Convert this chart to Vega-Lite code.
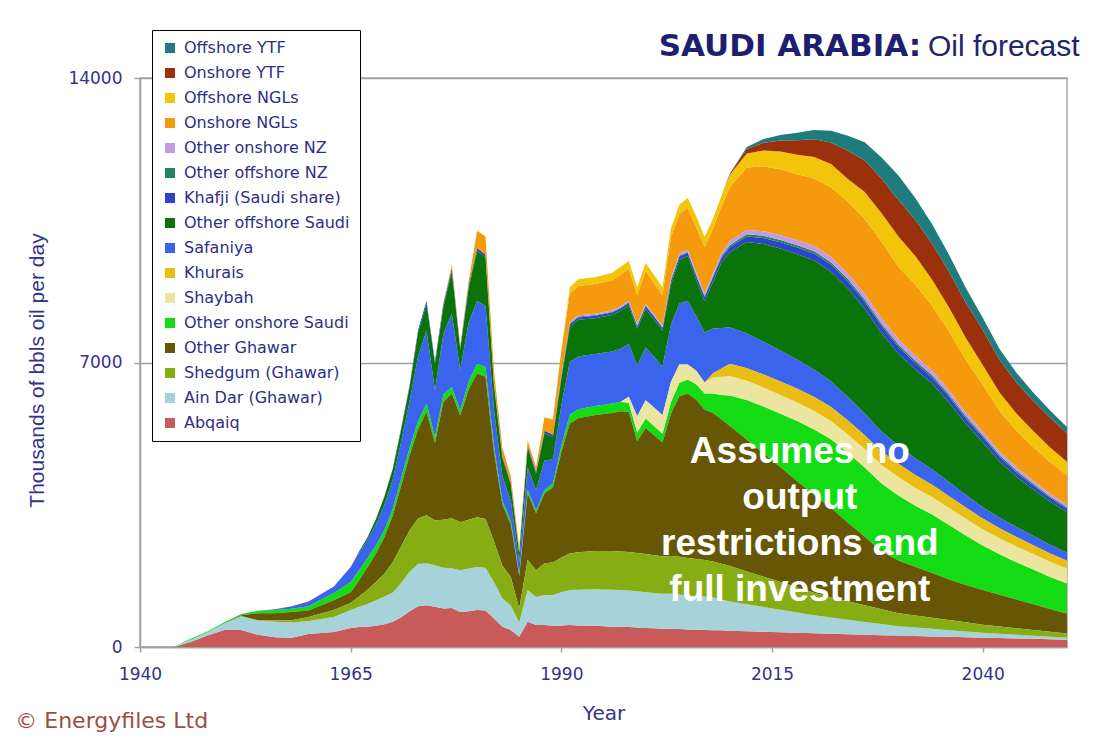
{
"$schema": "https://vega.github.io/schema/vega-lite/v6.json",
"width": 927, "height": 569,
"autosize": {"type": "none"},
"padding": {"left": 140, "top": 78, "right": 27, "bottom": 95},
"background": "white",
"config": {"view": {"stroke": "#a8a8a8", "strokeWidth": 1.5}, "font": "Liberation Sans"},
"data": {"values": [
{"year":1944,"field":"Abqaiq","kbd":0},{"year":1944,"field":"Ain Dar (Ghawar)","kbd":0},
{"year":1946,"field":"Abqaiq","kbd":120},{"year":1946,"field":"Ain Dar (Ghawar)","kbd":60},{"year":1946,"field":"Other onshore Saudi","kbd":20},
{"year":1948,"field":"Abqaiq","kbd":280},{"year":1948,"field":"Ain Dar (Ghawar)","kbd":80},{"year":1948,"field":"Other onshore Saudi","kbd":20},
{"year":1950,"field":"Abqaiq","kbd":420},{"year":1950,"field":"Ain Dar (Ghawar)","kbd":160},{"year":1950,"field":"Other onshore Saudi","kbd":30},
{"year":1952,"field":"Abqaiq","kbd":420},{"year":1952,"field":"Ain Dar (Ghawar)","kbd":340},{"year":1952,"field":"Other Ghawar","kbd":20},{"year":1952,"field":"Other onshore Saudi","kbd":30},
{"year":1954,"field":"Abqaiq","kbd":300},{"year":1954,"field":"Ain Dar (Ghawar)","kbd":360},{"year":1954,"field":"Other Ghawar","kbd":170},{"year":1954,"field":"Other onshore Saudi","kbd":60},
{"year":1956,"field":"Abqaiq","kbd":240},{"year":1956,"field":"Ain Dar (Ghawar)","kbd":380},{"year":1956,"field":"Shedgum (Ghawar)","kbd":30},{"year":1956,"field":"Other Ghawar","kbd":180},{"year":1956,"field":"Other onshore Saudi","kbd":80},{"year":1956,"field":"Safaniya","kbd":20},
{"year":1958,"field":"Abqaiq","kbd":230},{"year":1958,"field":"Ain Dar (Ghawar)","kbd":370},{"year":1958,"field":"Shedgum (Ghawar)","kbd":60},{"year":1958,"field":"Other Ghawar","kbd":200},{"year":1958,"field":"Other onshore Saudi","kbd":80},{"year":1958,"field":"Safaniya","kbd":60},
{"year":1960,"field":"Abqaiq","kbd":320},{"year":1960,"field":"Ain Dar (Ghawar)","kbd":320},{"year":1960,"field":"Shedgum (Ghawar)","kbd":100},{"year":1960,"field":"Other Ghawar","kbd":160},{"year":1960,"field":"Other onshore Saudi","kbd":100},{"year":1960,"field":"Safaniya","kbd":120},
{"year":1963,"field":"Abqaiq","kbd":370},{"year":1963,"field":"Ain Dar (Ghawar)","kbd":370},{"year":1963,"field":"Shedgum (Ghawar)","kbd":170},{"year":1963,"field":"Other Ghawar","kbd":240},{"year":1963,"field":"Other onshore Saudi","kbd":180},{"year":1963,"field":"Safaniya","kbd":160},
{"year":1965,"field":"Abqaiq","kbd":470},{"year":1965,"field":"Ain Dar (Ghawar)","kbd":440},{"year":1965,"field":"Shedgum (Ghawar)","kbd":170},{"year":1965,"field":"Other Ghawar","kbd":270},{"year":1965,"field":"Other onshore Saudi","kbd":250},{"year":1965,"field":"Safaniya","kbd":370},
{"year":1966,"field":"Abqaiq","kbd":490},{"year":1966,"field":"Ain Dar (Ghawar)","kbd":500},{"year":1966,"field":"Shedgum (Ghawar)","kbd":250},{"year":1966,"field":"Other Ghawar","kbd":400},{"year":1966,"field":"Other onshore Saudi","kbd":250},{"year":1966,"field":"Safaniya","kbd":420},{"year":1966,"field":"Other offshore Saudi","kbd":40},
{"year":1967,"field":"Abqaiq","kbd":500},{"year":1967,"field":"Ain Dar (Ghawar)","kbd":560},{"year":1967,"field":"Shedgum (Ghawar)","kbd":350},{"year":1967,"field":"Other Ghawar","kbd":550},{"year":1967,"field":"Other onshore Saudi","kbd":230},{"year":1967,"field":"Safaniya","kbd":450},{"year":1967,"field":"Other offshore Saudi","kbd":60},
{"year":1968,"field":"Abqaiq","kbd":520},{"year":1968,"field":"Ain Dar (Ghawar)","kbd":630},{"year":1968,"field":"Shedgum (Ghawar)","kbd":450},{"year":1968,"field":"Other Ghawar","kbd":700},{"year":1968,"field":"Other onshore Saudi","kbd":200},{"year":1968,"field":"Safaniya","kbd":520},{"year":1968,"field":"Other offshore Saudi","kbd":130},
{"year":1969,"field":"Abqaiq","kbd":560},{"year":1969,"field":"Ain Dar (Ghawar)","kbd":680},{"year":1969,"field":"Shedgum (Ghawar)","kbd":560},{"year":1969,"field":"Other Ghawar","kbd":900},{"year":1969,"field":"Other onshore Saudi","kbd":180},{"year":1969,"field":"Safaniya","kbd":620},{"year":1969,"field":"Other offshore Saudi","kbd":200},
{"year":1970,"field":"Abqaiq","kbd":620},{"year":1970,"field":"Ain Dar (Ghawar)","kbd":720},{"year":1970,"field":"Shedgum (Ghawar)","kbd":750},{"year":1970,"field":"Other Ghawar","kbd":1150},{"year":1970,"field":"Other onshore Saudi","kbd":170},{"year":1970,"field":"Safaniya","kbd":720},{"year":1970,"field":"Other offshore Saudi","kbd":250},{"year":1970,"field":"Khafji (Saudi share)","kbd":20},
{"year":1971,"field":"Abqaiq","kbd":730},{"year":1971,"field":"Ain Dar (Ghawar)","kbd":850},{"year":1971,"field":"Shedgum (Ghawar)","kbd":900},{"year":1971,"field":"Other Ghawar","kbd":1500},{"year":1971,"field":"Other onshore Saudi","kbd":180},{"year":1971,"field":"Safaniya","kbd":900},{"year":1971,"field":"Other offshore Saudi","kbd":300},{"year":1971,"field":"Khafji (Saudi share)","kbd":40},
{"year":1972,"field":"Abqaiq","kbd":880},{"year":1972,"field":"Ain Dar (Ghawar)","kbd":970},{"year":1972,"field":"Shedgum (Ghawar)","kbd":1020},{"year":1972,"field":"Other Ghawar","kbd":1850},{"year":1972,"field":"Other onshore Saudi","kbd":190},{"year":1972,"field":"Safaniya","kbd":1150},{"year":1972,"field":"Other offshore Saudi","kbd":350},{"year":1972,"field":"Khafji (Saudi share)","kbd":40},
{"year":1973,"field":"Abqaiq","kbd":1000},{"year":1973,"field":"Ain Dar (Ghawar)","kbd":1040},{"year":1973,"field":"Shedgum (Ghawar)","kbd":1120},{"year":1973,"field":"Other Ghawar","kbd":2200},{"year":1973,"field":"Other onshore Saudi","kbd":200},{"year":1973,"field":"Safaniya","kbd":1600},{"year":1973,"field":"Other offshore Saudi","kbd":580},{"year":1973,"field":"Khafji (Saudi share)","kbd":60},
{"year":1974,"field":"Abqaiq","kbd":1030},{"year":1974,"field":"Ain Dar (Ghawar)","kbd":1030},{"year":1974,"field":"Shedgum (Ghawar)","kbd":1180},{"year":1974,"field":"Other Ghawar","kbd":2550},{"year":1974,"field":"Other onshore Saudi","kbd":200},{"year":1974,"field":"Safaniya","kbd":1800},{"year":1974,"field":"Other offshore Saudi","kbd":660},{"year":1974,"field":"Khafji (Saudi share)","kbd":70},
{"year":1975,"field":"Abqaiq","kbd":990},{"year":1975,"field":"Ain Dar (Ghawar)","kbd":1020},{"year":1975,"field":"Shedgum (Ghawar)","kbd":1110},{"year":1975,"field":"Other Ghawar","kbd":1900},{"year":1975,"field":"Other onshore Saudi","kbd":150},{"year":1975,"field":"Safaniya","kbd":1150},{"year":1975,"field":"Other offshore Saudi","kbd":650},{"year":1975,"field":"Khafji (Saudi share)","kbd":60},
{"year":1976,"field":"Abqaiq","kbd":950},{"year":1976,"field":"Ain Dar (Ghawar)","kbd":1000},{"year":1976,"field":"Shedgum (Ghawar)","kbd":1180},{"year":1976,"field":"Other Ghawar","kbd":2900},{"year":1976,"field":"Other onshore Saudi","kbd":180},{"year":1976,"field":"Safaniya","kbd":1500},{"year":1976,"field":"Other offshore Saudi","kbd":650},{"year":1976,"field":"Khafji (Saudi share)","kbd":80},{"year":1976,"field":"Onshore NGLs","kbd":30},
{"year":1977,"field":"Abqaiq","kbd":960},{"year":1977,"field":"Ain Dar (Ghawar)","kbd":980},{"year":1977,"field":"Shedgum (Ghawar)","kbd":1230},{"year":1977,"field":"Other Ghawar","kbd":3070},{"year":1977,"field":"Other onshore Saudi","kbd":160},{"year":1977,"field":"Safaniya","kbd":1800},{"year":1977,"field":"Other offshore Saudi","kbd":1050},{"year":1977,"field":"Khafji (Saudi share)","kbd":70},{"year":1977,"field":"Onshore NGLs","kbd":80},
{"year":1978,"field":"Abqaiq","kbd":860},{"year":1978,"field":"Ain Dar (Ghawar)","kbd":1030},{"year":1978,"field":"Shedgum (Ghawar)","kbd":1180},{"year":1978,"field":"Other Ghawar","kbd":2630},{"year":1978,"field":"Other onshore Saudi","kbd":120},{"year":1978,"field":"Safaniya","kbd":1000},{"year":1978,"field":"Other offshore Saudi","kbd":500},{"year":1978,"field":"Khafji (Saudi share)","kbd":50},{"year":1978,"field":"Onshore NGLs","kbd":50},
{"year":1979,"field":"Abqaiq","kbd":880},{"year":1979,"field":"Ain Dar (Ghawar)","kbd":1050},{"year":1979,"field":"Shedgum (Ghawar)","kbd":1200},{"year":1979,"field":"Other Ghawar","kbd":3200},{"year":1979,"field":"Other onshore Saudi","kbd":200},{"year":1979,"field":"Safaniya","kbd":1450},{"year":1979,"field":"Other offshore Saudi","kbd":850},{"year":1979,"field":"Khafji (Saudi share)","kbd":70},{"year":1979,"field":"Onshore NGLs","kbd":100},
{"year":1980,"field":"Abqaiq","kbd":910},{"year":1980,"field":"Ain Dar (Ghawar)","kbd":1060},{"year":1980,"field":"Shedgum (Ghawar)","kbd":1220},{"year":1980,"field":"Other Ghawar","kbd":3540},{"year":1980,"field":"Other onshore Saudi","kbd":240},{"year":1980,"field":"Safaniya","kbd":1550},{"year":1980,"field":"Other offshore Saudi","kbd":1230},{"year":1980,"field":"Khafji (Saudi share)","kbd":70},{"year":1980,"field":"Onshore NGLs","kbd":420},
{"year":1981,"field":"Abqaiq","kbd":900},{"year":1981,"field":"Ain Dar (Ghawar)","kbd":1050},{"year":1981,"field":"Shedgum (Ghawar)","kbd":1200},{"year":1981,"field":"Other Ghawar","kbd":3500},{"year":1981,"field":"Other onshore Saudi","kbd":240},{"year":1981,"field":"Safaniya","kbd":1500},{"year":1981,"field":"Other offshore Saudi","kbd":1200},{"year":1981,"field":"Khafji (Saudi share)","kbd":70},{"year":1981,"field":"Onshore NGLs","kbd":440},
{"year":1982,"field":"Abqaiq","kbd":700},{"year":1982,"field":"Ain Dar (Ghawar)","kbd":900},{"year":1982,"field":"Shedgum (Ghawar)","kbd":1000},{"year":1982,"field":"Other Ghawar","kbd":2200},{"year":1982,"field":"Other onshore Saudi","kbd":150},{"year":1982,"field":"Safaniya","kbd":900},{"year":1982,"field":"Other offshore Saudi","kbd":600},{"year":1982,"field":"Khafji (Saudi share)","kbd":50},{"year":1982,"field":"Onshore NGLs","kbd":300},
{"year":1983,"field":"Abqaiq","kbd":500},{"year":1983,"field":"Ain Dar (Ghawar)","kbd":700},{"year":1983,"field":"Shedgum (Ghawar)","kbd":800},{"year":1983,"field":"Other Ghawar","kbd":1500},{"year":1983,"field":"Other onshore Saudi","kbd":100},{"year":1983,"field":"Safaniya","kbd":600},{"year":1983,"field":"Other offshore Saudi","kbd":450},{"year":1983,"field":"Khafji (Saudi share)","kbd":50},{"year":1983,"field":"Onshore NGLs","kbd":200},
{"year":1984,"field":"Abqaiq","kbd":420},{"year":1984,"field":"Ain Dar (Ghawar)","kbd":600},{"year":1984,"field":"Shedgum (Ghawar)","kbd":700},{"year":1984,"field":"Other Ghawar","kbd":1300},{"year":1984,"field":"Other onshore Saudi","kbd":80},{"year":1984,"field":"Safaniya","kbd":500},{"year":1984,"field":"Other offshore Saudi","kbd":400},{"year":1984,"field":"Khafji (Saudi share)","kbd":40},{"year":1984,"field":"Onshore NGLs","kbd":160},
{"year":1985,"field":"Abqaiq","kbd":250},{"year":1985,"field":"Ain Dar (Ghawar)","kbd":350},{"year":1985,"field":"Shedgum (Ghawar)","kbd":350},{"year":1985,"field":"Other Ghawar","kbd":800},{"year":1985,"field":"Other onshore Saudi","kbd":50},{"year":1985,"field":"Safaniya","kbd":300},{"year":1985,"field":"Other offshore Saudi","kbd":200},{"year":1985,"field":"Khafji (Saudi share)","kbd":30},{"year":1985,"field":"Onshore NGLs","kbd":120},
{"year":1986,"field":"Abqaiq","kbd":620},{"year":1986,"field":"Ain Dar (Ghawar)","kbd":780},{"year":1986,"field":"Shedgum (Ghawar)","kbd":740},{"year":1986,"field":"Other Ghawar","kbd":1640},{"year":1986,"field":"Other onshore Saudi","kbd":80},{"year":1986,"field":"Safaniya","kbd":560},{"year":1986,"field":"Other offshore Saudi","kbd":490},{"year":1986,"field":"Khafji (Saudi share)","kbd":50},{"year":1986,"field":"Onshore NGLs","kbd":120},
{"year":1987,"field":"Abqaiq","kbd":540},{"year":1987,"field":"Ain Dar (Ghawar)","kbd":690},{"year":1987,"field":"Shedgum (Ghawar)","kbd":660},{"year":1987,"field":"Other Ghawar","kbd":1400},{"year":1987,"field":"Other onshore Saudi","kbd":70},{"year":1987,"field":"Safaniya","kbd":500},{"year":1987,"field":"Other offshore Saudi","kbd":410},{"year":1987,"field":"Khafji (Saudi share)","kbd":50},{"year":1987,"field":"Onshore NGLs","kbd":100},
{"year":1988,"field":"Abqaiq","kbd":540},{"year":1988,"field":"Ain Dar (Ghawar)","kbd":740},{"year":1988,"field":"Shedgum (Ghawar)","kbd":780},{"year":1988,"field":"Other Ghawar","kbd":1720},{"year":1988,"field":"Other onshore Saudi","kbd":80},{"year":1988,"field":"Safaniya","kbd":730},{"year":1988,"field":"Other offshore Saudi","kbd":670},{"year":1988,"field":"Khafji (Saudi share)","kbd":60},{"year":1988,"field":"Onshore NGLs","kbd":330},
{"year":1989,"field":"Abqaiq","kbd":520},{"year":1989,"field":"Ain Dar (Ghawar)","kbd":760},{"year":1989,"field":"Shedgum (Ghawar)","kbd":800},{"year":1989,"field":"Other Ghawar","kbd":1850},{"year":1989,"field":"Other onshore Saudi","kbd":90},{"year":1989,"field":"Safaniya","kbd":600},{"year":1989,"field":"Other offshore Saudi","kbd":550},{"year":1989,"field":"Khafji (Saudi share)","kbd":60},{"year":1989,"field":"Onshore NGLs","kbd":370},
{"year":1990,"field":"Abqaiq","kbd":530},{"year":1990,"field":"Ain Dar (Ghawar)","kbd":820},{"year":1990,"field":"Shedgum (Ghawar)","kbd":850},{"year":1990,"field":"Other Ghawar","kbd":2600},{"year":1990,"field":"Other onshore Saudi","kbd":150},{"year":1990,"field":"Safaniya","kbd":1000},{"year":1990,"field":"Other offshore Saudi","kbd":650},{"year":1990,"field":"Khafji (Saudi share)","kbd":60},{"year":1990,"field":"Other offshore NZ","kbd":20},{"year":1990,"field":"Other onshore NZ","kbd":20},{"year":1990,"field":"Onshore NGLs","kbd":600},
{"year":1991,"field":"Abqaiq","kbd":540},{"year":1991,"field":"Ain Dar (Ghawar)","kbd":860},{"year":1991,"field":"Shedgum (Ghawar)","kbd":900},{"year":1991,"field":"Other Ghawar","kbd":3200},{"year":1991,"field":"Other onshore Saudi","kbd":220},{"year":1991,"field":"Safaniya","kbd":1300},{"year":1991,"field":"Other offshore Saudi","kbd":860},{"year":1991,"field":"Khafji (Saudi share)","kbd":60},{"year":1991,"field":"Other offshore NZ","kbd":20},{"year":1991,"field":"Other onshore NZ","kbd":30},{"year":1991,"field":"Onshore NGLs","kbd":700},{"year":1991,"field":"Offshore NGLs","kbd":160},
{"year":1992,"field":"Abqaiq","kbd":530},{"year":1992,"field":"Ain Dar (Ghawar)","kbd":880},{"year":1992,"field":"Shedgum (Ghawar)","kbd":920},{"year":1992,"field":"Other Ghawar","kbd":3300},{"year":1992,"field":"Other onshore Saudi","kbd":220},{"year":1992,"field":"Safaniya","kbd":1300},{"year":1992,"field":"Other offshore Saudi","kbd":900},{"year":1992,"field":"Khafji (Saudi share)","kbd":60},{"year":1992,"field":"Other offshore NZ","kbd":20},{"year":1992,"field":"Other onshore NZ","kbd":30},{"year":1992,"field":"Onshore NGLs","kbd":720},{"year":1992,"field":"Offshore NGLs","kbd":170},
{"year":1994,"field":"Abqaiq","kbd":520},{"year":1994,"field":"Ain Dar (Ghawar)","kbd":900},{"year":1994,"field":"Shedgum (Ghawar)","kbd":940},{"year":1994,"field":"Other Ghawar","kbd":3350},{"year":1994,"field":"Other onshore Saudi","kbd":220},{"year":1994,"field":"Safaniya","kbd":1280},{"year":1994,"field":"Other offshore Saudi","kbd":880},{"year":1994,"field":"Khafji (Saudi share)","kbd":60},{"year":1994,"field":"Other offshore NZ","kbd":20},{"year":1994,"field":"Other onshore NZ","kbd":30},{"year":1994,"field":"Onshore NGLs","kbd":730},{"year":1994,"field":"Offshore NGLs","kbd":170},
{"year":1996,"field":"Abqaiq","kbd":500},{"year":1996,"field":"Ain Dar (Ghawar)","kbd":910},{"year":1996,"field":"Shedgum (Ghawar)","kbd":950},{"year":1996,"field":"Other Ghawar","kbd":3400},{"year":1996,"field":"Other onshore Saudi","kbd":230},{"year":1996,"field":"Safaniya","kbd":1280},{"year":1996,"field":"Other offshore Saudi","kbd":900},{"year":1996,"field":"Khafji (Saudi share)","kbd":60},{"year":1996,"field":"Other offshore NZ","kbd":20},{"year":1996,"field":"Other onshore NZ","kbd":30},{"year":1996,"field":"Onshore NGLs","kbd":740},{"year":1996,"field":"Offshore NGLs","kbd":180},
{"year":1997,"field":"Abqaiq","kbd":500},{"year":1997,"field":"Ain Dar (Ghawar)","kbd":900},{"year":1997,"field":"Shedgum (Ghawar)","kbd":950},{"year":1997,"field":"Other Ghawar","kbd":3450},{"year":1997,"field":"Other onshore Saudi","kbd":230},{"year":1997,"field":"Safaniya","kbd":1300},{"year":1997,"field":"Other offshore Saudi","kbd":940},{"year":1997,"field":"Khafji (Saudi share)","kbd":60},{"year":1997,"field":"Other offshore NZ","kbd":20},{"year":1997,"field":"Other onshore NZ","kbd":30},{"year":1997,"field":"Onshore NGLs","kbd":780},{"year":1997,"field":"Offshore NGLs","kbd":190},
{"year":1998,"field":"Abqaiq","kbd":490},{"year":1998,"field":"Ain Dar (Ghawar)","kbd":900},{"year":1998,"field":"Shedgum (Ghawar)","kbd":950},{"year":1998,"field":"Other Ghawar","kbd":3450},{"year":1998,"field":"Other onshore Saudi","kbd":220},{"year":1998,"field":"Shaybah","kbd":150},{"year":1998,"field":"Safaniya","kbd":1300},{"year":1998,"field":"Other offshore Saudi","kbd":950},{"year":1998,"field":"Khafji (Saudi share)","kbd":60},{"year":1998,"field":"Other offshore NZ","kbd":20},{"year":1998,"field":"Other onshore NZ","kbd":30},{"year":1998,"field":"Onshore NGLs","kbd":780},{"year":1998,"field":"Offshore NGLs","kbd":200},
{"year":1999,"field":"Abqaiq","kbd":480},{"year":1999,"field":"Ain Dar (Ghawar)","kbd":890},{"year":1999,"field":"Shedgum (Ghawar)","kbd":940},{"year":1999,"field":"Other Ghawar","kbd":2750},{"year":1999,"field":"Other onshore Saudi","kbd":220},{"year":1999,"field":"Shaybah","kbd":400},{"year":1999,"field":"Safaniya","kbd":1250},{"year":1999,"field":"Other offshore Saudi","kbd":900},{"year":1999,"field":"Khafji (Saudi share)","kbd":60},{"year":1999,"field":"Other offshore NZ","kbd":20},{"year":1999,"field":"Other onshore NZ","kbd":30},{"year":1999,"field":"Onshore NGLs","kbd":720},{"year":1999,"field":"Offshore NGLs","kbd":190},
{"year":2000,"field":"Abqaiq","kbd":470},{"year":2000,"field":"Ain Dar (Ghawar)","kbd":880},{"year":2000,"field":"Shedgum (Ghawar)","kbd":940},{"year":2000,"field":"Other Ghawar","kbd":3100},{"year":2000,"field":"Other onshore Saudi","kbd":230},{"year":2000,"field":"Shaybah","kbd":450},{"year":2000,"field":"Safaniya","kbd":1300},{"year":2000,"field":"Other offshore Saudi","kbd":950},{"year":2000,"field":"Khafji (Saudi share)","kbd":70},{"year":2000,"field":"Other offshore NZ","kbd":20},{"year":2000,"field":"Other onshore NZ","kbd":30},{"year":2000,"field":"Onshore NGLs","kbd":810},{"year":2000,"field":"Offshore NGLs","kbd":200},
{"year":2001,"field":"Abqaiq","kbd":460},{"year":2001,"field":"Ain Dar (Ghawar)","kbd":870},{"year":2001,"field":"Shedgum (Ghawar)","kbd":930},{"year":2001,"field":"Other Ghawar","kbd":2950},{"year":2001,"field":"Other onshore Saudi","kbd":230},{"year":2001,"field":"Shaybah","kbd":450},{"year":2001,"field":"Safaniya","kbd":1250},{"year":2001,"field":"Other offshore Saudi","kbd":920},{"year":2001,"field":"Khafji (Saudi share)","kbd":70},{"year":2001,"field":"Other offshore NZ","kbd":20},{"year":2001,"field":"Other onshore NZ","kbd":30},{"year":2001,"field":"Onshore NGLs","kbd":770},{"year":2001,"field":"Offshore NGLs","kbd":200},
{"year":2002,"field":"Abqaiq","kbd":450},{"year":2002,"field":"Ain Dar (Ghawar)","kbd":860},{"year":2002,"field":"Shedgum (Ghawar)","kbd":920},{"year":2002,"field":"Other Ghawar","kbd":2800},{"year":2002,"field":"Other onshore Saudi","kbd":220},{"year":2002,"field":"Shaybah","kbd":450},{"year":2002,"field":"Safaniya","kbd":1200},{"year":2002,"field":"Other offshore Saudi","kbd":880},{"year":2002,"field":"Khafji (Saudi share)","kbd":70},{"year":2002,"field":"Other offshore NZ","kbd":20},{"year":2002,"field":"Other onshore NZ","kbd":30},{"year":2002,"field":"Onshore NGLs","kbd":750},{"year":2002,"field":"Offshore NGLs","kbd":200},
{"year":2003,"field":"Abqaiq","kbd":450},{"year":2003,"field":"Ain Dar (Ghawar)","kbd":860},{"year":2003,"field":"Shedgum (Ghawar)","kbd":930},{"year":2003,"field":"Other Ghawar","kbd":3500},{"year":2003,"field":"Other onshore Saudi","kbd":280},{"year":2003,"field":"Shaybah","kbd":500},{"year":2003,"field":"Safaniya","kbd":1400},{"year":2003,"field":"Other offshore Saudi","kbd":1000},{"year":2003,"field":"Khafji (Saudi share)","kbd":80},{"year":2003,"field":"Other offshore NZ","kbd":30},{"year":2003,"field":"Other onshore NZ","kbd":50},{"year":2003,"field":"Onshore NGLs","kbd":1000},{"year":2003,"field":"Offshore NGLs","kbd":220},
{"year":2004,"field":"Abqaiq","kbd":440},{"year":2004,"field":"Ain Dar (Ghawar)","kbd":850},{"year":2004,"field":"Shedgum (Ghawar)","kbd":930},{"year":2004,"field":"Other Ghawar","kbd":3950},{"year":2004,"field":"Other onshore Saudi","kbd":330},{"year":2004,"field":"Shaybah","kbd":450},{"year":2004,"field":"Safaniya","kbd":1500},{"year":2004,"field":"Other offshore Saudi","kbd":1080},{"year":2004,"field":"Khafji (Saudi share)","kbd":80},{"year":2004,"field":"Other offshore NZ","kbd":20},{"year":2004,"field":"Other onshore NZ","kbd":50},{"year":2004,"field":"Onshore NGLs","kbd":970},{"year":2004,"field":"Offshore NGLs","kbd":230},
{"year":2005,"field":"Abqaiq","kbd":430},{"year":2005,"field":"Ain Dar (Ghawar)","kbd":840},{"year":2005,"field":"Shedgum (Ghawar)","kbd":920},{"year":2005,"field":"Other Ghawar","kbd":4050},{"year":2005,"field":"Other onshore Saudi","kbd":340},{"year":2005,"field":"Shaybah","kbd":370},{"year":2005,"field":"Safaniya","kbd":1570},{"year":2005,"field":"Other offshore Saudi","kbd":1100},{"year":2005,"field":"Khafji (Saudi share)","kbd":80},{"year":2005,"field":"Other offshore NZ","kbd":20},{"year":2005,"field":"Other onshore NZ","kbd":50},{"year":2005,"field":"Onshore NGLs","kbd":1030},{"year":2005,"field":"Offshore NGLs","kbd":250},
{"year":2006,"field":"Abqaiq","kbd":425},{"year":2006,"field":"Ain Dar (Ghawar)","kbd":830},{"year":2006,"field":"Shedgum (Ghawar)","kbd":910},{"year":2006,"field":"Other Ghawar","kbd":3920},{"year":2006,"field":"Other onshore Saudi","kbd":380},{"year":2006,"field":"Shaybah","kbd":330},{"year":2006,"field":"Safaniya","kbd":1350},{"year":2006,"field":"Other offshore Saudi","kbd":900},{"year":2006,"field":"Khafji (Saudi share)","kbd":90},{"year":2006,"field":"Other offshore NZ","kbd":30},{"year":2006,"field":"Other onshore NZ","kbd":55},{"year":2006,"field":"Onshore NGLs","kbd":1120},{"year":2006,"field":"Offshore NGLs","kbd":260},
{"year":2007,"field":"Abqaiq","kbd":420},{"year":2007,"field":"Ain Dar (Ghawar)","kbd":820},{"year":2007,"field":"Shedgum (Ghawar)","kbd":900},{"year":2007,"field":"Other Ghawar","kbd":3700},{"year":2007,"field":"Other onshore Saudi","kbd":400},{"year":2007,"field":"Shaybah","kbd":270},{"year":2007,"field":"Safaniya","kbd":1230},{"year":2007,"field":"Other offshore Saudi","kbd":770},{"year":2007,"field":"Khafji (Saudi share)","kbd":100},{"year":2007,"field":"Other offshore NZ","kbd":30},{"year":2007,"field":"Other onshore NZ","kbd":50},{"year":2007,"field":"Onshore NGLs","kbd":1150},{"year":2007,"field":"Offshore NGLs","kbd":250},
{"year":2008,"field":"Abqaiq","kbd":415},{"year":2008,"field":"Ain Dar (Ghawar)","kbd":800},{"year":2008,"field":"Shedgum (Ghawar)","kbd":890},{"year":2008,"field":"Other Ghawar","kbd":3650},{"year":2008,"field":"Other onshore Saudi","kbd":480},{"year":2008,"field":"Shaybah","kbd":400},{"year":2008,"field":"Khurais","kbd":100},{"year":2008,"field":"Safaniya","kbd":1100},{"year":2008,"field":"Other offshore Saudi","kbd":1150},{"year":2008,"field":"Khafji (Saudi share)","kbd":110},{"year":2008,"field":"Other offshore NZ","kbd":40},{"year":2008,"field":"Other onshore NZ","kbd":60},{"year":2008,"field":"Onshore NGLs","kbd":1100},{"year":2008,"field":"Offshore NGLs","kbd":250},
{"year":2009,"field":"Abqaiq","kbd":410},{"year":2009,"field":"Ain Dar (Ghawar)","kbd":760},{"year":2009,"field":"Shedgum (Ghawar)","kbd":880},{"year":2009,"field":"Other Ghawar","kbd":3550},{"year":2009,"field":"Other onshore Saudi","kbd":600},{"year":2009,"field":"Shaybah","kbd":450},{"year":2009,"field":"Khurais","kbd":200},{"year":2009,"field":"Safaniya","kbd":1000},{"year":2009,"field":"Other offshore Saudi","kbd":1610},{"year":2009,"field":"Khafji (Saudi share)","kbd":120},{"year":2009,"field":"Other offshore NZ","kbd":40},{"year":2009,"field":"Other onshore NZ","kbd":70},{"year":2009,"field":"Onshore NGLs","kbd":1150},{"year":2009,"field":"Offshore NGLs","kbd":260},
{"year":2010,"field":"Abqaiq","kbd":400},{"year":2010,"field":"Ain Dar (Ghawar)","kbd":720},{"year":2010,"field":"Shedgum (Ghawar)","kbd":870},{"year":2010,"field":"Other Ghawar","kbd":3450},{"year":2010,"field":"Other onshore Saudi","kbd":750},{"year":2010,"field":"Shaybah","kbd":480},{"year":2010,"field":"Khurais","kbd":300},{"year":2010,"field":"Safaniya","kbd":900},{"year":2010,"field":"Other offshore Saudi","kbd":1840},{"year":2010,"field":"Khafji (Saudi share)","kbd":130},{"year":2010,"field":"Other offshore NZ","kbd":50},{"year":2010,"field":"Other onshore NZ","kbd":100},{"year":2010,"field":"Onshore NGLs","kbd":1330},{"year":2010,"field":"Offshore NGLs","kbd":300},{"year":2010,"field":"Onshore YTF","kbd":30},
{"year":2012,"field":"Abqaiq","kbd":387},{"year":2012,"field":"Ain Dar (Ghawar)","kbd":665},{"year":2012,"field":"Shedgum (Ghawar)","kbd":806},{"year":2012,"field":"Other Ghawar","kbd":3240},{"year":2012,"field":"Other onshore Saudi","kbd":977},{"year":2012,"field":"Shaybah","kbd":475},{"year":2012,"field":"Khurais","kbd":310},{"year":2012,"field":"Safaniya","kbd":855},{"year":2012,"field":"Other offshore Saudi","kbd":2250},{"year":2012,"field":"Khafji (Saudi share)","kbd":138},{"year":2012,"field":"Other offshore NZ","kbd":52},{"year":2012,"field":"Other onshore NZ","kbd":105},{"year":2012,"field":"Onshore NGLs","kbd":1540},{"year":2012,"field":"Offshore NGLs","kbd":345},{"year":2012,"field":"Onshore YTF","kbd":110},{"year":2012,"field":"Offshore YTF","kbd":45},
{"year":2014,"field":"Abqaiq","kbd":375},{"year":2014,"field":"Ain Dar (Ghawar)","kbd":611},{"year":2014,"field":"Shedgum (Ghawar)","kbd":743},{"year":2014,"field":"Other Ghawar","kbd":3032},{"year":2014,"field":"Other onshore Saudi","kbd":1156},{"year":2014,"field":"Shaybah","kbd":469},{"year":2014,"field":"Khurais","kbd":318},{"year":2014,"field":"Safaniya","kbd":809},{"year":2014,"field":"Other offshore Saudi","kbd":2403},{"year":2014,"field":"Khafji (Saudi share)","kbd":147},{"year":2014,"field":"Other offshore NZ","kbd":54},{"year":2014,"field":"Other onshore NZ","kbd":111},{"year":2014,"field":"Onshore NGLs","kbd":1596},{"year":2014,"field":"Offshore NGLs","kbd":391},{"year":2014,"field":"Onshore YTF","kbd":194},{"year":2014,"field":"Offshore YTF","kbd":91},
{"year":2016,"field":"Abqaiq","kbd":362},{"year":2016,"field":"Ain Dar (Ghawar)","kbd":556},{"year":2016,"field":"Shedgum (Ghawar)","kbd":679},{"year":2016,"field":"Other Ghawar","kbd":2823},{"year":2016,"field":"Other onshore Saudi","kbd":1319},{"year":2016,"field":"Shaybah","kbd":464},{"year":2016,"field":"Khurais","kbd":327},{"year":2016,"field":"Safaniya","kbd":764},{"year":2016,"field":"Other offshore Saudi","kbd":2509},{"year":2016,"field":"Khafji (Saudi share)","kbd":154},{"year":2016,"field":"Other offshore NZ","kbd":55},{"year":2016,"field":"Other onshore NZ","kbd":116},{"year":2016,"field":"Onshore NGLs","kbd":1625},{"year":2016,"field":"Offshore NGLs","kbd":436},{"year":2016,"field":"Onshore YTF","kbd":275},{"year":2016,"field":"Offshore YTF","kbd":136},
{"year":2018,"field":"Abqaiq","kbd":349},{"year":2018,"field":"Ain Dar (Ghawar)","kbd":502},{"year":2018,"field":"Shedgum (Ghawar)","kbd":616},{"year":2018,"field":"Other Ghawar","kbd":2614},{"year":2018,"field":"Other onshore Saudi","kbd":1477},{"year":2018,"field":"Shaybah","kbd":458},{"year":2018,"field":"Khurais","kbd":336},{"year":2018,"field":"Safaniya","kbd":718},{"year":2018,"field":"Other offshore Saudi","kbd":2595},{"year":2018,"field":"Khafji (Saudi share)","kbd":162},{"year":2018,"field":"Other offshore NZ","kbd":57},{"year":2018,"field":"Other onshore NZ","kbd":122},{"year":2018,"field":"Onshore NGLs","kbd":1623},{"year":2018,"field":"Offshore NGLs","kbd":482},{"year":2018,"field":"Onshore YTF","kbd":357},{"year":2018,"field":"Offshore YTF","kbd":182},
{"year":2020,"field":"Abqaiq","kbd":336},{"year":2020,"field":"Ain Dar (Ghawar)","kbd":447},{"year":2020,"field":"Shedgum (Ghawar)","kbd":552},{"year":2020,"field":"Other Ghawar","kbd":2405},{"year":2020,"field":"Other onshore Saudi","kbd":1614},{"year":2020,"field":"Shaybah","kbd":453},{"year":2020,"field":"Khurais","kbd":345},{"year":2020,"field":"Safaniya","kbd":673},{"year":2020,"field":"Other offshore Saudi","kbd":2682},{"year":2020,"field":"Khafji (Saudi share)","kbd":171},{"year":2020,"field":"Other offshore NZ","kbd":59},{"year":2020,"field":"Other onshore NZ","kbd":127},{"year":2020,"field":"Onshore NGLs","kbd":1664},{"year":2020,"field":"Offshore NGLs","kbd":527},{"year":2020,"field":"Onshore YTF","kbd":439},{"year":2020,"field":"Offshore YTF","kbd":227},
{"year":2022,"field":"Abqaiq","kbd":324},{"year":2022,"field":"Ain Dar (Ghawar)","kbd":399},{"year":2022,"field":"Shedgum (Ghawar)","kbd":498},{"year":2022,"field":"Other Ghawar","kbd":2200},{"year":2022,"field":"Other onshore Saudi","kbd":1689},{"year":2022,"field":"Shaybah","kbd":450},{"year":2022,"field":"Khurais","kbd":348},{"year":2022,"field":"Safaniya","kbd":628},{"year":2022,"field":"Other offshore Saudi","kbd":2699},{"year":2022,"field":"Khafji (Saudi share)","kbd":174},{"year":2022,"field":"Other offshore NZ","kbd":60},{"year":2022,"field":"Other onshore NZ","kbd":130},{"year":2022,"field":"Onshore NGLs","kbd":1713},{"year":2022,"field":"Offshore NGLs","kbd":572},{"year":2022,"field":"Onshore YTF","kbd":527},{"year":2022,"field":"Offshore YTF","kbd":289},
{"year":2024,"field":"Abqaiq","kbd":313},{"year":2024,"field":"Ain Dar (Ghawar)","kbd":357},{"year":2024,"field":"Shedgum (Ghawar)","kbd":453},{"year":2024,"field":"Other Ghawar","kbd":1933},{"year":2024,"field":"Other onshore Saudi","kbd":1721},{"year":2024,"field":"Shaybah","kbd":450},{"year":2024,"field":"Khurais","kbd":343},{"year":2024,"field":"Safaniya","kbd":583},{"year":2024,"field":"Other offshore Saudi","kbd":2667},{"year":2024,"field":"Khafji (Saudi share)","kbd":173},{"year":2024,"field":"Other offshore NZ","kbd":60},{"year":2024,"field":"Other onshore NZ","kbd":130},{"year":2024,"field":"Onshore NGLs","kbd":1770},{"year":2024,"field":"Offshore NGLs","kbd":560},{"year":2024,"field":"Onshore YTF","kbd":700},{"year":2024,"field":"Offshore YTF","kbd":367},
{"year":2026,"field":"Abqaiq","kbd":302},{"year":2026,"field":"Ain Dar (Ghawar)","kbd":314},{"year":2026,"field":"Shedgum (Ghawar)","kbd":409},{"year":2026,"field":"Other Ghawar","kbd":1689},{"year":2026,"field":"Other onshore Saudi","kbd":1705},{"year":2026,"field":"Shaybah","kbd":450},{"year":2026,"field":"Khurais","kbd":339},{"year":2026,"field":"Safaniya","kbd":539},{"year":2026,"field":"Other offshore Saudi","kbd":2574},{"year":2026,"field":"Khafji (Saudi share)","kbd":172},{"year":2026,"field":"Other offshore NZ","kbd":60},{"year":2026,"field":"Other onshore NZ","kbd":130},{"year":2026,"field":"Onshore NGLs","kbd":1849},{"year":2026,"field":"Offshore NGLs","kbd":661},{"year":2026,"field":"Onshore YTF","kbd":780},{"year":2026,"field":"Offshore YTF","kbd":444},
{"year":2028,"field":"Abqaiq","kbd":291},{"year":2028,"field":"Ain Dar (Ghawar)","kbd":272},{"year":2028,"field":"Shedgum (Ghawar)","kbd":364},{"year":2028,"field":"Other Ghawar","kbd":1422},{"year":2028,"field":"Other onshore Saudi","kbd":1676},{"year":2028,"field":"Shaybah","kbd":450},{"year":2028,"field":"Khurais","kbd":334},{"year":2028,"field":"Safaniya","kbd":494},{"year":2028,"field":"Other offshore Saudi","kbd":2422},{"year":2028,"field":"Khafji (Saudi share)","kbd":171},{"year":2028,"field":"Other offshore NZ","kbd":60},{"year":2028,"field":"Other onshore NZ","kbd":130},{"year":2028,"field":"Onshore NGLs","kbd":1879},{"year":2028,"field":"Offshore NGLs","kbd":706},{"year":2028,"field":"Onshore YTF","kbd":850},{"year":2028,"field":"Offshore YTF","kbd":522},
{"year":2030,"field":"Abqaiq","kbd":280},{"year":2030,"field":"Ain Dar (Ghawar)","kbd":230},{"year":2030,"field":"Shedgum (Ghawar)","kbd":320},{"year":2030,"field":"Other Ghawar","kbd":1300},{"year":2030,"field":"Other onshore Saudi","kbd":1600},{"year":2030,"field":"Shaybah","kbd":450},{"year":2030,"field":"Khurais","kbd":330},{"year":2030,"field":"Safaniya","kbd":450},{"year":2030,"field":"Other offshore Saudi","kbd":2250},{"year":2030,"field":"Khafji (Saudi share)","kbd":170},{"year":2030,"field":"Other offshore NZ","kbd":60},{"year":2030,"field":"Other onshore NZ","kbd":130},{"year":2030,"field":"Onshore NGLs","kbd":1780},{"year":2030,"field":"Offshore NGLs","kbd":750},{"year":2030,"field":"Onshore YTF","kbd":900},{"year":2030,"field":"Offshore YTF","kbd":600},
{"year":2032,"field":"Abqaiq","kbd":270},{"year":2032,"field":"Ain Dar (Ghawar)","kbd":208},{"year":2032,"field":"Shedgum (Ghawar)","kbd":296},{"year":2032,"field":"Other Ghawar","kbd":1200},{"year":2032,"field":"Other onshore Saudi","kbd":1500},{"year":2032,"field":"Shaybah","kbd":440},{"year":2032,"field":"Khurais","kbd":316},{"year":2032,"field":"Safaniya","kbd":416},{"year":2032,"field":"Other offshore Saudi","kbd":2180},{"year":2032,"field":"Khafji (Saudi share)","kbd":160},{"year":2032,"field":"Other offshore NZ","kbd":58},{"year":2032,"field":"Other onshore NZ","kbd":122},{"year":2032,"field":"Onshore NGLs","kbd":1754},{"year":2032,"field":"Offshore NGLs","kbd":698},{"year":2032,"field":"Onshore YTF","kbd":892},{"year":2032,"field":"Offshore YTF","kbd":540},
{"year":2034,"field":"Abqaiq","kbd":260},{"year":2034,"field":"Ain Dar (Ghawar)","kbd":186},{"year":2034,"field":"Shedgum (Ghawar)","kbd":272},{"year":2034,"field":"Other Ghawar","kbd":1100},{"year":2034,"field":"Other onshore Saudi","kbd":1440},{"year":2034,"field":"Shaybah","kbd":430},{"year":2034,"field":"Khurais","kbd":302},{"year":2034,"field":"Safaniya","kbd":382},{"year":2034,"field":"Other offshore Saudi","kbd":2110},{"year":2034,"field":"Khafji (Saudi share)","kbd":150},{"year":2034,"field":"Other offshore NZ","kbd":56},{"year":2034,"field":"Other onshore NZ","kbd":114},{"year":2034,"field":"Onshore NGLs","kbd":1588},{"year":2034,"field":"Offshore NGLs","kbd":646},{"year":2034,"field":"Onshore YTF","kbd":884},{"year":2034,"field":"Offshore YTF","kbd":480},
{"year":2036,"field":"Abqaiq","kbd":250},{"year":2036,"field":"Ain Dar (Ghawar)","kbd":164},{"year":2036,"field":"Shedgum (Ghawar)","kbd":248},{"year":2036,"field":"Other Ghawar","kbd":1000},{"year":2036,"field":"Other onshore Saudi","kbd":1340},{"year":2036,"field":"Shaybah","kbd":420},{"year":2036,"field":"Khurais","kbd":288},{"year":2036,"field":"Safaniya","kbd":348},{"year":2036,"field":"Other offshore Saudi","kbd":1960},{"year":2036,"field":"Khafji (Saudi share)","kbd":140},{"year":2036,"field":"Other offshore NZ","kbd":54},{"year":2036,"field":"Other onshore NZ","kbd":106},{"year":2036,"field":"Onshore NGLs","kbd":1442},{"year":2036,"field":"Offshore NGLs","kbd":594},{"year":2036,"field":"Onshore YTF","kbd":876},{"year":2036,"field":"Offshore YTF","kbd":420},
{"year":2038,"field":"Abqaiq","kbd":240},{"year":2038,"field":"Ain Dar (Ghawar)","kbd":142},{"year":2038,"field":"Shedgum (Ghawar)","kbd":224},{"year":2038,"field":"Other Ghawar","kbd":920},{"year":2038,"field":"Other onshore Saudi","kbd":1220},{"year":2038,"field":"Shaybah","kbd":410},{"year":2038,"field":"Khurais","kbd":274},{"year":2038,"field":"Safaniya","kbd":314},{"year":2038,"field":"Other offshore Saudi","kbd":1750},{"year":2038,"field":"Khafji (Saudi share)","kbd":130},{"year":2038,"field":"Other offshore NZ","kbd":52},{"year":2038,"field":"Other onshore NZ","kbd":98},{"year":2038,"field":"Onshore NGLs","kbd":1286},{"year":2038,"field":"Offshore NGLs","kbd":542},{"year":2038,"field":"Onshore YTF","kbd":868},{"year":2038,"field":"Offshore YTF","kbd":360},
{"year":2040,"field":"Abqaiq","kbd":230},{"year":2040,"field":"Ain Dar (Ghawar)","kbd":120},{"year":2040,"field":"Shedgum (Ghawar)","kbd":200},{"year":2040,"field":"Other Ghawar","kbd":850},{"year":2040,"field":"Other onshore Saudi","kbd":1100},{"year":2040,"field":"Shaybah","kbd":400},{"year":2040,"field":"Khurais","kbd":260},{"year":2040,"field":"Safaniya","kbd":280},{"year":2040,"field":"Other offshore Saudi","kbd":1600},{"year":2040,"field":"Khafji (Saudi share)","kbd":120},{"year":2040,"field":"Other offshore NZ","kbd":50},{"year":2040,"field":"Other onshore NZ","kbd":90},{"year":2040,"field":"Onshore NGLs","kbd":1150},{"year":2040,"field":"Offshore NGLs","kbd":490},{"year":2040,"field":"Onshore YTF","kbd":860},{"year":2040,"field":"Offshore YTF","kbd":300},
{"year":2042,"field":"Abqaiq","kbd":220},{"year":2042,"field":"Ain Dar (Ghawar)","kbd":106},{"year":2042,"field":"Shedgum (Ghawar)","kbd":180},{"year":2042,"field":"Other Ghawar","kbd":778},{"year":2042,"field":"Other onshore Saudi","kbd":998},{"year":2042,"field":"Shaybah","kbd":394},{"year":2042,"field":"Khurais","kbd":246},{"year":2042,"field":"Safaniya","kbd":264},{"year":2042,"field":"Other offshore Saudi","kbd":1380},{"year":2042,"field":"Khafji (Saudi share)","kbd":112},{"year":2042,"field":"Other offshore NZ","kbd":48},{"year":2042,"field":"Other onshore NZ","kbd":84},{"year":2042,"field":"Onshore NGLs","kbd":996},{"year":2042,"field":"Offshore NGLs","kbd":458},{"year":2042,"field":"Onshore YTF","kbd":796},{"year":2042,"field":"Offshore YTF","kbd":270},
{"year":2044,"field":"Abqaiq","kbd":210},{"year":2044,"field":"Ain Dar (Ghawar)","kbd":92},{"year":2044,"field":"Shedgum (Ghawar)","kbd":160},{"year":2044,"field":"Other Ghawar","kbd":706},{"year":2044,"field":"Other onshore Saudi","kbd":916},{"year":2044,"field":"Shaybah","kbd":388},{"year":2044,"field":"Khurais","kbd":232},{"year":2044,"field":"Safaniya","kbd":248},{"year":2044,"field":"Other offshore Saudi","kbd":1240},{"year":2044,"field":"Khafji (Saudi share)","kbd":104},{"year":2044,"field":"Other offshore NZ","kbd":46},{"year":2044,"field":"Other onshore NZ","kbd":78},{"year":2044,"field":"Onshore NGLs","kbd":902},{"year":2044,"field":"Offshore NGLs","kbd":426},{"year":2044,"field":"Onshore YTF","kbd":762},{"year":2044,"field":"Offshore YTF","kbd":240},
{"year":2046,"field":"Abqaiq","kbd":200},{"year":2046,"field":"Ain Dar (Ghawar)","kbd":78},{"year":2046,"field":"Shedgum (Ghawar)","kbd":140},{"year":2046,"field":"Other Ghawar","kbd":634},{"year":2046,"field":"Other onshore Saudi","kbd":854},{"year":2046,"field":"Shaybah","kbd":382},{"year":2046,"field":"Khurais","kbd":218},{"year":2046,"field":"Safaniya","kbd":232},{"year":2046,"field":"Other offshore Saudi","kbd":1140},{"year":2046,"field":"Khafji (Saudi share)","kbd":96},{"year":2046,"field":"Other offshore NZ","kbd":44},{"year":2046,"field":"Other onshore NZ","kbd":72},{"year":2046,"field":"Onshore NGLs","kbd":828},{"year":2046,"field":"Offshore NGLs","kbd":394},{"year":2046,"field":"Onshore YTF","kbd":738},{"year":2046,"field":"Offshore YTF","kbd":210},
{"year":2048,"field":"Abqaiq","kbd":190},{"year":2048,"field":"Ain Dar (Ghawar)","kbd":64},{"year":2048,"field":"Shedgum (Ghawar)","kbd":120},{"year":2048,"field":"Other Ghawar","kbd":562},{"year":2048,"field":"Other onshore Saudi","kbd":784},{"year":2048,"field":"Shaybah","kbd":376},{"year":2048,"field":"Khurais","kbd":204},{"year":2048,"field":"Safaniya","kbd":216},{"year":2048,"field":"Other offshore Saudi","kbd":1060},{"year":2048,"field":"Khafji (Saudi share)","kbd":88},{"year":2048,"field":"Other offshore NZ","kbd":42},{"year":2048,"field":"Other onshore NZ","kbd":66},{"year":2048,"field":"Onshore NGLs","kbd":774},{"year":2048,"field":"Offshore NGLs","kbd":362},{"year":2048,"field":"Onshore YTF","kbd":732},{"year":2048,"field":"Offshore YTF","kbd":180},
{"year":2050,"field":"Abqaiq","kbd":180},{"year":2050,"field":"Ain Dar (Ghawar)","kbd":50},{"year":2050,"field":"Shedgum (Ghawar)","kbd":100},{"year":2050,"field":"Other Ghawar","kbd":490},{"year":2050,"field":"Other onshore Saudi","kbd":740},{"year":2050,"field":"Shaybah","kbd":370},{"year":2050,"field":"Khurais","kbd":190},{"year":2050,"field":"Safaniya","kbd":200},{"year":2050,"field":"Other offshore Saudi","kbd":1000},{"year":2050,"field":"Khafji (Saudi share)","kbd":80},{"year":2050,"field":"Other offshore NZ","kbd":40},{"year":2050,"field":"Other onshore NZ","kbd":60},{"year":2050,"field":"Onshore NGLs","kbd":730},{"year":2050,"field":"Offshore NGLs","kbd":330},{"year":2050,"field":"Onshore YTF","kbd":700},{"year":2050,"field":"Offshore YTF","kbd":150}
]},
"layer": [
{"transform": [{"calculate": "indexof(['Abqaiq','Ain Dar (Ghawar)','Shedgum (Ghawar)','Other Ghawar','Other onshore Saudi','Shaybah','Khurais','Safaniya','Other offshore Saudi','Khafji (Saudi share)','Other offshore NZ','Other onshore NZ','Onshore NGLs','Offshore NGLs','Onshore YTF','Offshore YTF'], datum.field)", "as": "stackRank"}],
 "mark": {"type": "area", "interpolate": "linear"},
 "encoding": {
  "x": {"field": "year", "type": "quantitative",
        "scale": {"domain": [1940, 2050], "nice": false, "zero": false},
        "axis": {"values": [1940, 1965, 1990, 2015, 2040], "format": "d", "title": "Year", "grid": false, "labelFlush": false,
                 "domainColor": "#a0a0a0", "domainWidth": 1.5, "tickColor": "#a0a0a0", "tickSize": 5, "tickWidth": 1.5,
                 "labelFont": "DejaVu Sans", "labelFontSize": 17, "labelColor": "#33338a", "labelPadding": 14,
                 "titleFont": "DejaVu Sans", "titleFontSize": 20, "titleFontWeight": "normal", "titleColor": "#33338a",
                 "titleY": 66, "titleBaseline": "middle"}},
  "y": {"field": "kbd", "type": "quantitative", "stack": "zero",
        "scale": {"domain": [0, 14000], "nice": false},
        "axis": {"values": [0, 7000, 14000], "format": "d", "title": "Thousands of bbls oil per day", "grid": true, "labelFlush": false,
                 "gridColor": "#a0a0a0", "gridWidth": 1.5, "domainColor": "#a0a0a0", "domainWidth": 1.5,
                 "tickColor": "#a0a0a0", "tickSize": 6, "tickWidth": 1.5,
                 "labelFont": "DejaVu Sans", "labelFontSize": 17, "labelColor": "#33338a", "labelPadding": 12,
                 "titleFont": "Liberation Sans", "titleFontSize": 21, "titleFontWeight": "normal", "titleColor": "#33338a",
                 "titleX": -103, "titleY": 292, "titleBaseline": "middle"}},
  "order": {"field": "stackRank", "type": "quantitative", "sort": "ascending"},
  "color": {"field": "field", "type": "nominal",
        "scale": {"domain": ["Abqaiq","Ain Dar (Ghawar)","Shedgum (Ghawar)","Other Ghawar","Other onshore Saudi","Shaybah","Khurais","Safaniya","Other offshore Saudi","Khafji (Saudi share)","Other offshore NZ","Other onshore NZ","Onshore NGLs","Offshore NGLs","Onshore YTF","Offshore YTF"],
                  "range": ["#c95a5a","#a6d2da","#86ad14","#675606","#14dc14","#ece5a0","#e9bd12","#3a64ee","#0a730a","#2a46c6","#23865e","#c59ae0","#f59a0c","#f3c50a","#9b300d","#1e7b7e"]},
        "legend": {"title": null, "orient": "none", "legendX": 12, "legendY": -48,
                   "values": ["Offshore YTF","Onshore YTF","Offshore NGLs","Onshore NGLs","Other onshore NZ","Other offshore NZ","Khafji (Saudi share)","Other offshore Saudi","Safaniya","Khurais","Shaybah","Other onshore Saudi","Other Ghawar","Shedgum (Ghawar)","Ain Dar (Ghawar)","Abqaiq"],
                   "symbolType": "square", "symbolSize": 100, "symbolStrokeWidth": 0, "symbolOpacity": 1,
                   "labelFont": "DejaVu Sans", "labelFontSize": 16, "labelColor": "#2e2e86", "labelLimit": 400, "labelOffset": 6,
                   "rowPadding": 9, "padding": 10, "fillColor": "white", "strokeColor": "black"}}
 }},
{"data": {"values": [{}]},
 "mark": {"type": "text", "text": "SAUDI ARABIA:", "font": "DejaVu Sans", "fontWeight": "bold", "fontSize": 31, "align": "right", "baseline": "alphabetic", "color": "#1f1f70"},
 "encoding": {"x": {"datum": 2032.7}, "y": {"datum": 14540}}},
{"data": {"values": [{}]},
 "mark": {"type": "text", "text": "Oil forecast", "font": "Liberation Sans", "fontSize": 30, "align": "right", "baseline": "alphabetic", "color": "#23236e"},
 "encoding": {"x": {"datum": 2051.5}, "y": {"datum": 14540}}},
{"data": {"values": [{}]},
 "mark": {"type": "text", "text": ["Assumes no", "output", "restrictions and", "full investment"], "font": "Liberation Sans", "fontWeight": "bold", "fontSize": 37, "lineHeight": 46, "align": "center", "baseline": "alphabetic", "color": "white"},
 "encoding": {"x": {"datum": 2018.3}, "y": {"datum": 4520}}},
{"data": {"values": [{}]},
 "mark": {"type": "text", "text": "© Energyfiles Ltd", "font": "DejaVu Sans", "fontSize": 22, "align": "left", "baseline": "alphabetic", "color": "#9c4e46"},
 "encoding": {"x": {"datum": 1925.2}, "y": {"datum": -2000}}}
]
}
